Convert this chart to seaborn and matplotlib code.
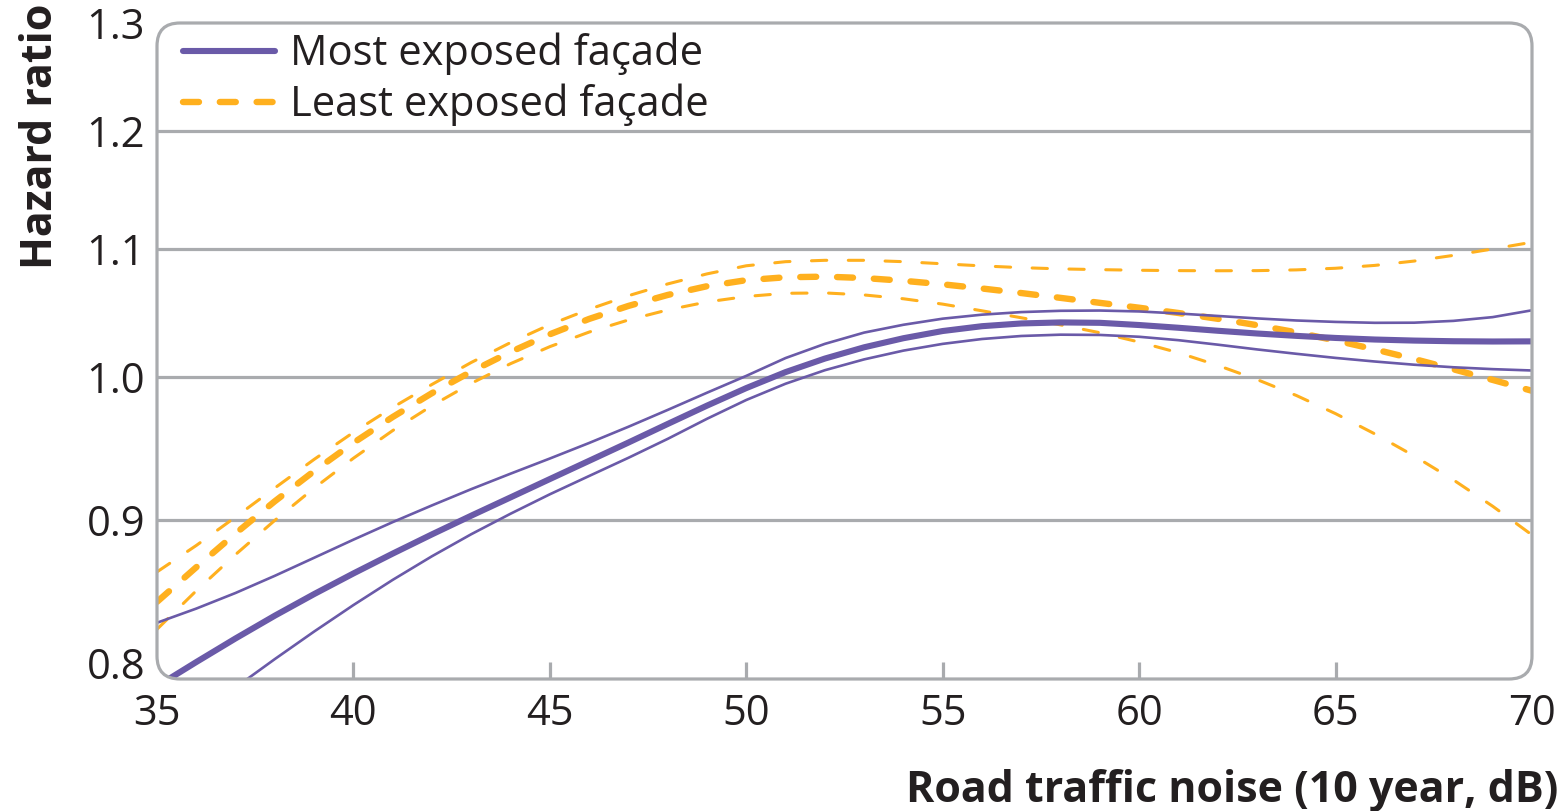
import numpy as np
import pandas as pd
import matplotlib
matplotlib.use("Agg")
import matplotlib.pyplot as plt
import seaborn as sns
from matplotlib.patches import FancyBboxPatch
from matplotlib.ticker import NullLocator, NullFormatter

# ---------------- data ----------------
noise_db = list(range(35, 71))

most_hr = [0.7957, 0.8101, 0.8244, 0.8384, 0.8519, 0.8650, 0.8778, 0.8904, 0.9028, 0.9151,
           0.9276, 0.9402, 0.9530, 0.9662, 0.9794, 0.9922, 1.0040, 1.0141, 1.0226, 1.0295,
           1.0350, 1.0387, 1.0408, 1.0416, 1.0413, 1.0396, 1.0375, 1.0352, 1.0331, 1.0313,
           1.0297, 1.0285, 1.0277, 1.0272, 1.0270, 1.0271]
most_upper = [0.8340, 0.8428, 0.8526, 0.8635, 0.8751, 0.8869, 0.8985, 0.9097, 0.9207, 0.9313,
              0.9418, 0.9527, 0.9642, 0.9763, 0.9888, 1.0012, 1.0145, 1.0252, 1.0338, 1.0398,
              1.0445, 1.0476, 1.0496, 1.0506, 1.0508, 1.0501, 1.0485, 1.0466, 1.0447, 1.0431,
              1.0420, 1.0413, 1.0414, 1.0428, 1.0457, 1.0510]
most_lower = [0.7620, 0.7785, 0.7950, 0.8119, 0.8286, 0.8450, 0.8609, 0.8761, 0.8905, 0.9041,
              0.9172, 0.9297, 0.9423, 0.9556, 0.9699, 0.9835, 0.9954, 1.0054, 1.0135, 1.0201,
              1.0252, 1.0289, 1.0312, 1.0322, 1.0320, 1.0306, 1.0280, 1.0246, 1.0210, 1.0177,
              1.0146, 1.0119, 1.0095, 1.0076, 1.0062, 1.0052]

least_hr = [0.8470, 0.8690, 0.8910, 0.9125, 0.9331, 0.9528, 0.9712, 0.9885, 1.0044, 1.0191,
            1.0325, 1.0443, 1.0544, 1.0630, 1.0699, 1.0747, 1.0770, 1.0775, 1.0764, 1.0742,
            1.0714, 1.0681, 1.0645, 1.0607, 1.0568, 1.0530, 1.0489, 1.0444, 1.0395, 1.0340,
            1.0278, 1.0210, 1.0138, 1.0061, 0.9982, 0.9902]
least_upper = [0.8660, 0.8831, 0.9019, 0.9215, 0.9412, 0.9602, 0.9781, 0.9949, 1.0112, 1.0262,
               1.0399, 1.0518, 1.0624, 1.0717, 1.0797, 1.0862, 1.0895, 1.0906, 1.0906, 1.0895,
               1.0878, 1.0861, 1.0847, 1.0837, 1.0831, 1.0826, 1.0823, 1.0822, 1.0823, 1.0829,
               1.0842, 1.0865, 1.0900, 1.0946, 1.0998, 1.1053]
least_lower = [0.8300, 0.8540, 0.8772, 0.8997, 0.9214, 0.9420, 0.9615, 0.9794, 0.9957, 1.0103,
               1.0231, 1.0342, 1.0435, 1.0513, 1.0575, 1.0618, 1.0643, 1.0646, 1.0630, 1.0600,
               1.0558, 1.0506, 1.0452, 1.0397, 1.0337, 1.0266, 1.0185, 1.0090, 0.9985, 0.9868,
               0.9736, 0.9591, 0.9436, 0.9270, 0.9091, 0.8900]

series_labels = ["Most exposed façade", "Least exposed façade"]
xtick_values = [35, 40, 45, 50, 55, 60, 65, 70]
ytick_values = [0.8, 0.9, 1.0, 1.1, 1.2, 1.3]
ytick_labels = ["0.8", "0.9", "1.0", "1.1", "1.2", "1.3"]
x_title = "Road traffic noise (10 year, dB)"
y_title = "Hazard ratio"

# ---------------- long-form table ----------------
rows = []
for series, parts in [(series_labels[0], {"hr": most_hr, "lower": most_lower, "upper": most_upper}),
                      (series_labels[1], {"hr": least_hr, "lower": least_lower, "upper": least_upper})]:
    for kind, vals in parts.items():
        for x, v in zip(noise_db, vals):
            rows.append({"series": series, "kind": kind, "noise": x, "value": v})
df = pd.DataFrame(rows)

# ---------------- style ----------------
sns.set_theme(style="white")
plt.rcParams["font.family"] = ["Open Sans", "DejaVu Sans"]
plt.rcParams["lines.scale_dashes"] = False
TEXT = "#231f20"
GRAY = "#a9abae"
PURPLE = "#6a5aa8"
ORANGE = "#ffb01e"
plt.rcParams["text.color"] = TEXT
plt.rcParams["xtick.color"] = TEXT
plt.rcParams["ytick.color"] = TEXT
FS = 30

W, H = 1565, 811
fig = plt.figure(figsize=(W / 100, H / 100), dpi=100)
fig.patch.set_facecolor("white")
ax_l, ax_r, ax_t, ax_b = 157, 1532, 23, 679
ax = fig.add_axes([ax_l / W, (H - ax_b) / H, (ax_r - ax_l) / W, (ax_b - ax_t) / H])
ax.patch.set_visible(False)

# rounded frame (also used as clip path)
frame = FancyBboxPatch((ax_l / 100, (H - ax_b) / 100), (ax_r - ax_l) / 100, (ax_b - ax_t) / 100,
                       boxstyle="round,pad=0,rounding_size=0.23",
                       transform=fig.dpi_scale_trans, fill=False, ec=GRAY, lw=2.3,
                       clip_on=False, zorder=3)
ax.add_patch(frame)

ax.set_yscale("log")
ax.set_xlim(35, 70)
ax.set_ylim(0.8, 1.3)

for gv in ytick_values[1:-1]:
    ax.axhline(gv, color=GRAY, lw=2.3, zorder=1)

def draw(series, kind, color, lw, dashes=None, label=None):
    sub = df[(df.series == series) & (df.kind == kind)]
    n_before = len(ax.lines)
    sns.lineplot(data=sub, x="noise", y="value", ax=ax, color=color, linewidth=lw,
                 estimator=None, sort=False, legend=False, label=label, zorder=2)
    line = ax.lines[n_before]
    line.set_solid_capstyle("round")
    if dashes is not None:
        line.set_dashes(dashes)
        line.set_dash_capstyle("round")
    line.set_clip_path(frame)
    return line

thin_dash = (11, 15.5)
thick_dash = (11.5, 15)
draw(series_labels[1], "upper", ORANGE, 2.2, thin_dash)
draw(series_labels[1], "lower", ORANGE, 2.2, thin_dash)
h_least = draw(series_labels[1], "hr", ORANGE, 4.6, thick_dash)
draw(series_labels[0], "upper", PURPLE, 1.9)
draw(series_labels[0], "lower", PURPLE, 1.9)
h_most = draw(series_labels[0], "hr", PURPLE, 4.4)

for s in ax.spines.values():
    s.set_visible(False)

ax.set_xticks(xtick_values)
ax.set_xticklabels([str(v) for v in xtick_values])
ax.tick_params(axis="x", direction="in", length=12, width=2.3, color=GRAY,
               pad=10, labelsize=FS, bottom=True)
ax.yaxis.set_minor_locator(NullLocator())
ax.yaxis.set_minor_formatter(NullFormatter())
ax.set_yticks(ytick_values)
ax.set_yticklabels(ytick_labels)
ax.tick_params(axis="y", length=0, pad=8.5, labelsize=FS, left=True)
xt = ax.xaxis.get_major_ticks()
xt[0].tick1line.set_visible(False)
xt[-1].tick1line.set_visible(False)
yt = ax.yaxis.get_major_ticks()
yt[0].label1.set_verticalalignment("baseline")
ax.set_xlabel("")
ax.set_ylabel("")

leg = ax.legend(handles=[h_most, h_least], labels=series_labels, loc="upper left",
                bbox_to_anchor=(26 / 1375, (ax_b - 33) / (ax_b - ax_t)), frameon=False,
                fontsize=FS, handlelength=2.2, handletextpad=0.36, labelspacing=0.2,
                borderpad=0, borderaxespad=0)

fig.text(1558 / W, 1 - 802 / H, x_title, ha="right", va="baseline",
         fontsize=31, fontweight="bold")
fig.text(52 / W, 1 - 4 / H, y_title, rotation=90, rotation_mode="anchor",
         ha="right", va="baseline", fontsize=31, fontweight="bold")

fig.savefig("out.png", dpi=100, facecolor="white")
